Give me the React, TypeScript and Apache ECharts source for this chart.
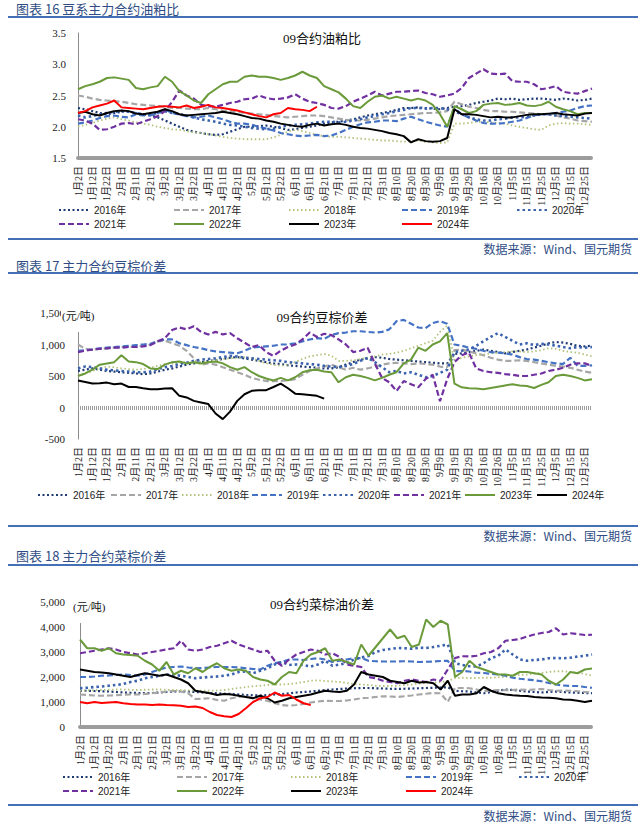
import React, { useEffect, useRef } from "react";
import * as echarts from "echarts";

const CATEGORIES = ["1月2日","1月7日","1月12日","1月17日","1月22日","1月27日","2月1日","2月6日","2月11日","2月16日","2月21日","2月26日","3月2日","3月7日","3月12日","3月17日","3月22日","3月27日","4月1日","4月6日","4月11日","4月16日","4月21日","4月26日","5月2日","5月7日","5月12日","5月17日","5月22日","5月27日","6月1日","6月6日","6月11日","6月16日","6月21日","6月26日","7月1日","7月6日","7月11日","7月16日","7月21日","7月26日","7月31日","8月5日","8月10日","8月15日","8月20日","8月25日","8月30日","9月4日","9月9日","9月14日","9月19日","9月24日","9月29日","10月11日","10月16日","10月21日","10月26日","10月31日","11月5日","11月10日","11月15日","11月20日","11月25日","11月30日","12月5日","12月10日","12月15日","12月20日","12月25日","12月30日"];

// ---------- Chart 16: 09合约油粕比 ----------
const C1_2016 = [2.3,2.28,2.25,2.22,2.2,2.22,2.24,2.25,2.22,2.2, 2.18,2.15,2.1,2.05,2.0,1.95,1.92,1.9,1.88,1.87, 1.88,1.92,1.96,2.0,2.0,2.01,2.02,2.0,1.98,1.95, 1.96,1.98,2.0,2.02,2.05,2.07,2.08,2.1,2.12,2.15, 2.18,2.2,2.22,2.24,2.27,2.3,2.3,2.31,2.3,2.29, 2.28,2.3,2.32,2.33,2.35,2.38,2.4,2.42,2.45,2.44, 2.45,2.43,2.44,2.45,2.45,2.44,2.43,2.45,2.44,2.42, 2.43,2.45];
const C1_2017 = [2.5,2.48,2.45,2.43,2.42,2.41,2.4,2.38,2.36,2.35, 2.34,2.33,2.32,2.3,2.3,2.29,2.28,2.28,2.3,2.28, 2.26,2.25,2.24,2.22,2.21,2.2,2.19,2.17,2.16,2.15, 2.16,2.17,2.18,2.18,2.17,2.15,2.13,2.11,2.1,2.1, 2.11,2.13,2.15,2.17,2.18,2.19,2.2,2.21,2.22,2.22, 2.23,2.25,2.4,2.36,2.32,2.3,2.27,2.25,2.25,2.24, 2.24,2.23,2.22,2.21,2.2,2.2,2.18,2.15,2.13,2.1, 2.09,2.08];
const C1_2018 = [2.0,2.03,2.06,2.1,2.13,2.15,2.12,2.1,2.07,2.05, 2.03,2.0,1.98,1.96,1.95,1.93,1.91,1.9,1.88,1.86, 1.84,1.82,1.81,1.8,1.8,1.8,1.8,1.83,1.87,1.92, 1.95,1.93,1.9,1.87,1.85,1.84,1.84,1.83,1.82,1.81, 1.8,1.79,1.78,1.78,1.77,1.76,1.77,1.78,1.76,1.75, 1.74,1.75,2.05,2.05,2.06,2.08,2.08,2.07,2.06,2.05, 2.02,2.0,1.98,1.96,1.95,2.02,2.05,2.06,2.05,2.05, 2.04,2.03];
const C1_2019 = [2.05,2.07,2.1,2.14,2.17,2.18,2.16,2.15,2.2,2.18, 2.18,2.22,2.28,2.22,2.2,2.17,2.15,2.16,2.18,2.15, 2.12,2.08,2.05,2.05,2.03,2.0,1.97,1.94,1.9,1.88, 1.86,1.85,1.86,1.87,1.85,1.86,1.9,1.95,2.0,2.04, 2.07,2.08,2.1,2.1,2.09,2.13,2.16,2.12,2.08,2.05, 2.02,2.0,2.3,2.2,2.15,2.1,2.06,2.05,2.05,2.06, 2.08,2.1,2.14,2.18,2.2,2.2,2.22,2.24,2.26,2.3, 2.33,2.34];
const C1_2020 = [2.18,2.15,2.17,2.2,2.22,2.24,2.25,2.24,2.22,2.2, 2.2,2.22,2.25,2.22,2.2,2.18,2.15,2.12,2.1,2.08, 2.05,2.03,2.02,2.0,1.98,1.97,1.96,1.97,2.0,2.02, 2.03,2.04,2.05,2.07,2.08,2.08,2.07,2.08,2.1,2.12, 2.15,2.17,2.2,2.22,2.25,2.27,2.3,2.3,2.29,2.3, 2.3,2.28,2.25,2.2,2.15,2.12,2.1,2.1,2.12,2.13, 2.15,2.15,2.16,2.18,2.2,2.2,2.18,2.17,2.16,2.15, 2.14,2.13];
const C1_2021 = [2.12,2.1,2.05,1.95,1.96,2.0,2.05,2.06,2.04,2.08, 2.12,2.17,2.25,2.4,2.58,2.5,2.45,2.35,2.33,2.32, 2.35,2.38,2.4,2.44,2.45,2.5,2.46,2.44,2.45,2.47, 2.52,2.45,2.4,2.38,2.35,2.3,2.29,2.33,2.4,2.45, 2.5,2.56,2.5,2.53,2.56,2.56,2.57,2.58,2.54,2.52, 2.48,2.5,2.53,2.62,2.78,2.85,2.92,2.85,2.84,2.85, 2.73,2.72,2.72,2.68,2.6,2.62,2.65,2.56,2.54,2.53, 2.57,2.61];
const C1_2022 = [2.6,2.65,2.68,2.72,2.78,2.79,2.77,2.75,2.62,2.6, 2.63,2.65,2.8,2.72,2.57,2.5,2.42,2.38,2.52,2.6, 2.68,2.72,2.72,2.8,2.82,2.8,2.8,2.78,2.75,2.78, 2.82,2.88,2.82,2.78,2.65,2.6,2.55,2.45,2.33,2.3, 2.4,2.48,2.5,2.45,2.48,2.45,2.42,2.45,2.42,2.35, 2.2,2.0,2.33,2.28,2.22,2.25,2.35,2.37,2.38,2.35, 2.36,2.38,2.34,2.33,2.35,2.4,2.32,2.28,2.25,2.2, 2.22,2.22];
const C1_2023 = [2.22,2.24,2.2,2.18,2.22,2.25,2.26,2.25,2.21,2.2, 2.22,2.24,2.28,2.25,2.2,2.18,2.19,2.2,2.21,2.22, 2.24,2.22,2.2,2.17,2.14,2.13,2.1,2.08,2.05,2.03, 2.01,2.0,2.03,2.05,2.02,2.04,2.05,2.03,2.0,1.98, 1.97,1.95,1.93,1.9,1.88,1.85,1.75,1.8,1.77,1.76, 1.77,1.82,2.28,2.2,2.2,2.19,2.17,2.15,2.16,2.15, 2.15,2.17,2.19,2.2,2.2,2.21,2.22,2.2,2.19,2.18, 2.21,2.22];
const C1_2024 = [2.22,2.25,2.31,2.34,2.37,2.42,2.31,2.3,2.29,2.28, 2.3,2.32,2.33,2.32,2.31,2.34,2.3,2.32,2.35,2.31, 2.3,2.28,2.26,2.23,2.2,2.17,2.15,2.2,2.22,2.3, 2.28,2.27,2.25,2.32];

// ---------- Chart 17: 09合约豆棕价差 ----------
const C2_2016 = [580,600,620,600,580,570,560,550,540,530, 540,570,600,620,650,680,700,720,740,750, 770,790,800,780,760,740,720,700,690,670, 660,650,640,630,620,620,640,680,720,760, 780,800,790,770,760,750,740,730,720,710, 700,700,850,860,880,900,920,900,880,860, 880,900,920,950,980,1020,1040,1030,1010,980, 970,980];
const C2_2017 = [1000,930,920,930,940,950,960,960,970,980, 1000,1050,1060,1020,980,900,780,680,700,680, 640,600,560,520,470,440,420,420,420,430, 450,520,580,620,650,680,640,600,630,600, 620,650,680,700,710,700,690,700,690,680, 650,640,910,920,890,860,830,790,760,740, 740,750,740,720,700,680,660,650,630,600, 570,550];
const C2_2018 = [500,540,580,620,650,640,620,610,600,610, 630,660,690,700,710,720,720,720,730,750, 770,780,790,800,780,740,700,680,660,680, 720,770,810,830,850,820,740,740,750,770, 790,810,840,850,870,900,940,980,1020,1060, 1200,1300,740,790,810,830,840,860,870,880, 890,890,880,890,910,940,930,900,880,870, 840,810];
const C2_2019 = [900,910,920,940,950,960,970,980,990,1000, 1010,1050,1080,1080,1020,990,960,940,910,890, 880,870,860,900,950,960,970,980,1000,1000, 1020,1050,1080,1100,1090,1150,1180,1190,1210,1210, 1200,1190,1200,1240,1370,1390,1330,1270,1260,1340, 1370,1330,1000,980,950,930,900,880,870,860, 840,800,770,760,740,720,700,690,790,660, 660,670];
const C2_2020 = [620,650,640,620,600,590,580,570,560,560, 570,610,640,660,690,710,740,760,770,780, 800,820,810,790,780,770,760,750,740,720, 710,700,690,680,660,650,640,660,690,740, 790,720,640,560,580,540,560,520,480,500, 550,600,880,900,920,980,1050,1120,1180,1120, 1060,1000,1020,990,1010,1000,980,960,940,960, 950,960];
const C2_2021 = [880,900,920,930,940,950,950,960,960,970, 990,1050,1100,1230,1270,1240,1290,1200,1160,1200, 1160,1180,1100,1030,960,990,880,820,900,960, 1000,1080,1190,1120,1170,1150,1080,1000,880,900, 950,700,470,400,260,420,370,320,450,520, 100,450,720,830,870,620,580,560,550,530, 520,500,500,520,540,580,600,630,680,700, 700,660];
const C2_2023 = [500,540,600,680,700,720,830,730,720,690, 620,610,680,720,730,700,720,700,720,730, 700,640,600,640,560,500,460,430,470,430, 480,560,590,600,570,560,400,480,520,500, 470,430,470,520,560,700,760,950,900,1000, 1050,1180,380,320,305,300,290,310,330,350, 370,350,340,310,360,400,500,520,500,470, 430,450];
const C2_2024 = [430,405,380,385,395,370,380,325,325,305, 290,290,300,305,185,160,105,80,55,-95, -185,-65,105,210,265,275,275,325,380,305, 220,210,200,185,140];

// ---------- Chart 18: 09合约菜棕油价差 ----------
const C3_2016 = [1450,1450,1440,1430,1420,1400,1380,1370,1360,1350, 1360,1380,1400,1420,1430,1420,1400,1380,1360,1350, 1330,1320,1300,1280,1270,1260,1280,1300,1320,1350, 1380,1400,1420,1450,1480,1500,1520,1540,1550,1560, 1560,1550,1540,1530,1520,1530,1540,1550,1560,1570, 1580,1590,1450,1430,1420,1380,1350,1400,1450,1500, 1480,1450,1420,1400,1380,1400,1420,1400,1380,1370, 1360,1350];
const C3_2017 = [1300,1280,1260,1250,1260,1270,1290,1300,1300,1320, 1350,1380,1420,1440,1420,1350,1120,1130,1150,1080, 1050,1150,1200,1250,1150,1100,1050,950,880,850, 880,920,980,1020,1050,1040,1040,1060,1100,1150, 1170,1200,1230,1220,1200,1230,1260,1300,1330,1360, 1350,1000,1560,1560,1550,1500,1440,1460,1480,1470, 1480,1500,1480,1500,1520,1480,1450,1460,1450,1430, 1400,1370];
const C3_2018 = [1450,1460,1470,1480,1490,1500,1500,1490,1480,1490, 1500,1500,1490,1480,1470,1460,1450,1450,1450,1460, 1480,1520,1560,1600,1630,1650,1680,1700,1700,1720, 1750,1800,1850,1870,1840,1820,1800,1760,1720,1700, 1680,1650,1640,1640,1650,1680,1700,1740,1760,1780, 1800,1830,1960,1970,1960,1960,1970,1970,1990,2000, 2050,2080,2100,2130,2160,2200,2230,2230,2200,2180, 2120,2050];
const C3_2019 = [2000,2000,2020,2050,2060,2080,2100,2080,2050,2100, 2200,2300,2380,2400,2420,2380,2350,2360,2380,2400, 2400,2400,2380,2350,2320,2300,2450,2550,2600,2700, 2700,2680,2720,2750,2700,2600,2650,2700,2750,2760, 2650,2630,2620,2620,2620,2630,2620,2600,2610,2620, 2640,2650,2230,2240,2220,2170,2160,2130,2100,2050, 1970,1930,1900,1870,1830,1760,1700,1660,1640,1640, 1600,1570];
const C3_2020 = [1550,1570,1600,1620,1650,1680,1720,1800,1850,1950, 2000,2050,2100,2080,2050,2000,1950,1980,2000,2020, 2050,2100,2200,2220,2150,2250,2350,2500,2600,2480, 2500,2480,2420,2500,2650,2450,2500,2560,2700,2780, 2840,3000,3080,3120,3160,3150,3130,3170,3160,3200, 3250,3300,2560,2480,2430,2420,2560,2750,2850,3100, 2900,2700,2650,2680,2700,2750,2760,2750,2770,2820, 2850,2900];
const C3_2021 = [2950,3000,3050,3100,3150,3100,3000,2950,2900,2950, 3000,3050,3100,3150,3450,3100,3050,3100,3200,3250, 3350,3450,3300,3200,3100,3000,3050,2650,2450,2700, 2900,3000,3100,3050,2900,2950,2800,2500,2450,2400, 2000,1950,1850,1800,1750,1850,1900,1850,1800,1900, 1850,2300,2760,2830,2820,2850,2950,3000,3150,3450, 3480,3520,3620,3700,3760,3800,3950,3700,3750,3720, 3680,3690];
const C3_2022 = [3500,3150,3150,3050,3150,2950,2900,2880,2850,2650, 2500,2250,2600,2100,2250,2150,2350,2200,2400,2550, 2350,2250,2300,2250,2000,1900,1850,1700,2000,2200, 2150,2650,2900,3000,3150,2650,2700,2600,2500,3300, 2850,3200,3550,3900,3550,3650,3200,3300,4300,4000, 4250,4100,2000,2200,2650,2400,2300,2200,2100,2100, 2050,2200,2200,2150,2100,1850,1700,1900,2200,2150, 2300,2340];
const C3_2023 = [2300,2250,2200,2180,2150,2100,2050,2000,2080,2150, 2100,2050,2100,2000,1900,1750,1450,1400,1350,1280, 1320,1300,1250,1200,1150,1250,1150,980,1050,1150, 1200,1250,1300,1380,1450,1420,1400,1450,1700,2200, 2100,2050,2000,1850,1800,1750,1850,1780,1800,1750, 1500,1850,1250,1300,1300,1350,1600,1450,1350,1300, 1270,1250,1240,1200,1180,1170,1150,1100,1090,1050, 1000,1050];
const C3_2024 = [1000,950,1000,960,980,1000,950,920,900,900, 880,900,880,870,850,800,820,760,600,480, 430,400,520,750,1000,1150,1200,1380,1250,1280, 1100,950,880];

const Y1_TICKS = [1.5, 3.5, 0.5];
const Y2_TICKS = [-500, 1500, 500];
const Y3_TICKS = [0, 5000, 1000];

const SERIF = "'Liberation Serif', 'Times New Roman', 'Noto Sans CJK SC', serif";
const SANS = "'Liberation Sans', Arial, 'Noto Sans CJK SC', sans-serif";
const CJK = "'Noto Sans CJK SC', 'Liberation Sans', sans-serif";
const HEAD_COLOR = "#2f4d84";
const RULE_COLOR = "#4470b8";

type Sty = { color: string; width: number; type: any };
const ST: Record<string, Sty> = {
  s2016: { color: "#1f3b73", width: 2.2, type: [2, 2.5] },
  s2017: { color: "#a6a6a6", width: 2.2, type: [6, 3] },
  s2018: { color: "#b2c27a", width: 1.8, type: [1.5, 2.5] },
  s2019: { color: "#4472c4", width: 2.2, type: [6, 3] },
  s2020: { color: "#3a62ad", width: 2.6, type: [2.5, 3] },
  s2021: { color: "#7030a0", width: 2.2, type: [6, 3] },
  green: { color: "#6a9a3a", width: 2, type: "solid" },
  black: { color: "#000000", width: 2, type: "solid" },
  red: { color: "#ff0000", width: 2, type: "solid" },
};

const comma = (v: number) => {
  const s = Math.abs(v).toString().replace(/\B(?=(\d{3})+(?!\d))/g, ",");
  return (v < 0 ? "-" : "") + s;
};

interface Panel {
  header: string;
  headerY: number;
  lineY: number;
  footLineY: number;
  sourceY: number;
  title: string;
  titleY: number;
  unit?: { x: number; y: number };
  gridLeft: number;
  gridTop: number;
  gridHeight: number;
  ticks: number[];
  fmt: (v: number) => string;
  labelMargin: number;
  zeroLine: boolean;
  series: { name: string; data: (number | null)[]; sty: Sty }[];
  legend: [string, number, number][];
}

function buildOption(p: Panel) {
  const series: any[] = p.series.map((s, i) => {
    const o: any = {
      name: s.name,
      type: "line",
      data: s.data,
      symbol: "none",
      showSymbol: false,
      legendIcon: "none",
      lineStyle: { color: s.sty.color, width: s.sty.width, type: s.sty.type },
      itemStyle: { color: s.sty.color },
      emphasis: { disabled: true },
      z: 3 + i,
    };
    if (i === 0 && p.zeroLine) {
      o.markLine = {
        silent: true,
        symbol: "none",
        label: { show: false },
        lineStyle: { color: "#9c9c9c", width: 4, type: [1, 1] },
        data: [{ yAxis: 0 }],
        z: 1,
      };
    }
    return o;
  });

  const legends = p.legend.map(([name, left, top]) => ({
    show: true,
    data: [name],
    left,
    top,
    padding: 0,
    itemWidth: 30,
    itemHeight: 10,
    selectedMode: false,
    itemStyle: { opacity: 0, borderWidth: 0 },
    textStyle: { fontSize: 10, fontFamily: SANS, color: "#222" },
  }));

  const graphic: any[] = [
    {
      type: "text",
      x: 16,
      y: p.headerY,
      style: { text: p.header, font: `13px ${CJK}`, fill: HEAD_COLOR, align: "left", verticalAlign: "middle", textAlign: "left", textVerticalAlign: "middle" },
    },
    { type: "line", shape: { x1: 8, y1: p.lineY, x2: 638, y2: p.lineY }, style: { stroke: RULE_COLOR, lineWidth: 2 } },
    { type: "line", shape: { x1: 8, y1: p.footLineY, x2: 638, y2: p.footLineY }, style: { stroke: RULE_COLOR, lineWidth: 2 } },
    {
      type: "text",
      x: 632,
      y: p.sourceY,
      style: { text: "数据来源：Wind、国元期货", font: `12px ${CJK}`, fill: HEAD_COLOR, align: "right", verticalAlign: "middle", textAlign: "right", textVerticalAlign: "middle" },
    },
    {
      type: "text",
      x: 322,
      y: p.titleY,
      z: 20,
      style: { text: p.title, font: `13px ${SERIF}`, fill: "#111", align: "center", verticalAlign: "middle", textAlign: "center", textVerticalAlign: "middle" },
    },
  ];
  if (p.unit) {
    graphic.push({
      type: "rect",
      z: 20,
      shape: { x: p.unit.x - 1, y: p.unit.y - 8, width: 40, height: 24 },
      style: { fill: "#ffffff" },
    });
    graphic.push({
      type: "text",
      z: 21,
      x: p.unit.x,
      y: p.unit.y,
      style: { text: "(元/吨)", font: `11px ${SERIF}`, fill: "#111", align: "left", verticalAlign: "middle", textAlign: "left", textVerticalAlign: "middle" },
    });
  }

  return {
    animation: false,
    backgroundColor: "#ffffff",
    grid: { left: p.gridLeft, right: 51, top: p.gridTop, height: p.gridHeight, containLabel: false },
    legend: legends,
    graphic,
    xAxis: {
      type: "category",
      data: CATEGORIES,
      boundaryGap: false,
      axisLine: p.zeroLine
        ? { show: false, onZero: false }
        : { show: true, onZero: false, lineStyle: { color: "#9c9c9c", width: 4, type: [1, 1] } },
      axisTick: { show: false },
      splitLine: { show: false },
      axisLabel: { interval: 1, rotate: 90, fontSize: 10, fontFamily: SERIF, color: "#222", margin: 8 },
    },
    yAxis: {
      type: "value",
      min: p.ticks[0],
      max: p.ticks[1],
      interval: p.ticks[2],
      axisLine: { show: true, lineStyle: { color: "#8c8c8c", width: 1 } },
      axisTick: { show: false },
      splitLine: { show: false },
      axisLabel: { formatter: p.fmt, fontSize: 11, fontFamily: SERIF, color: "#222", margin: p.labelMargin },
    },
    series,
  };
}

const PANEL1: Panel = {
  header: "图表 16 豆系主力合约油粕比",
  headerY: 8,
  lineY: 17,
  footLineY: 239,
  sourceY: 248,
  title: "09合约油粕比",
  titleY: 38,
  gridLeft: 78,
  gridTop: 33,
  gridHeight: 125,
  ticks: Y1_TICKS,
  fmt: (v: number) => v.toFixed(1),
  labelMargin: 12,
  zeroLine: false,
  series: [
    { name: "2016年", data: C1_2016, sty: ST.s2016 },
    { name: "2017年", data: C1_2017, sty: ST.s2017 },
    { name: "2018年", data: C1_2018, sty: ST.s2018 },
    { name: "2019年", data: C1_2019, sty: ST.s2019 },
    { name: "2020年", data: C1_2020, sty: ST.s2020 },
    { name: "2021年", data: C1_2021, sty: ST.s2021 },
    { name: "2022年", data: C1_2022, sty: ST.green },
    { name: "2023年", data: C1_2023, sty: ST.black },
    { name: "2024年", data: C1_2024, sty: ST.red },
  ],
  legend: [
    ["2016年", 58, 205], ["2017年", 173, 205], ["2018年", 288, 205], ["2019年", 401, 205], ["2020年", 516, 205],
    ["2021年", 58, 219], ["2022年", 173, 219], ["2023年", 288, 219], ["2024年", 401, 219],
  ],
};

// panel 2 coordinates are relative to its div top (256)
const PANEL2: Panel = {
  header: "图表 17 主力合约豆棕价差",
  headerY: 9,
  lineY: 17,
  footLineY: 270,
  sourceY: 279,
  title: "09合约豆棕价差",
  titleY: 61,
  unit: { x: 62, y: 60 },
  gridLeft: 78,
  gridTop: 57,
  gridHeight: 126,
  ticks: Y2_TICKS,
  fmt: comma,
  labelMargin: 13,
  zeroLine: true,
  series: [
    { name: "2016年", data: C2_2016, sty: ST.s2016 },
    { name: "2017年", data: C2_2017, sty: ST.s2017 },
    { name: "2018年", data: C2_2018, sty: ST.s2018 },
    { name: "2019年", data: C2_2019, sty: ST.s2019 },
    { name: "2020年", data: C2_2020, sty: ST.s2020 },
    { name: "2021年", data: C2_2021, sty: ST.s2021 },
    { name: "2023年", data: C2_2023, sty: ST.green },
    { name: "2024年", data: C2_2024, sty: ST.black },
  ],
  legend: [
    ["2016年", 37, 234], ["2017年", 110, 234], ["2018年", 181, 234], ["2019年", 251, 234],
    ["2020年", 322, 234], ["2021年", 393, 234], ["2023年", 464, 234], ["2024年", 536, 234],
  ],
};

// panel 3 coordinates are relative to its div top (544)
const PANEL3: Panel = {
  header: "图表 18 主力合约菜棕价差",
  headerY: 11,
  lineY: 21,
  footLineY: 261,
  sourceY: 271,
  title: "09合约菜棕油价差",
  titleY: 60,
  unit: { x: 73, y: 63 },
  gridLeft: 80,
  gridTop: 58,
  gridHeight: 125,
  ticks: Y3_TICKS,
  fmt: comma,
  labelMargin: 15,
  zeroLine: false,
  series: [
    { name: "2016年", data: C3_2016, sty: ST.s2016 },
    { name: "2017年", data: C3_2017, sty: ST.s2017 },
    { name: "2018年", data: C3_2018, sty: ST.s2018 },
    { name: "2019年", data: C3_2019, sty: ST.s2019 },
    { name: "2020年", data: C3_2020, sty: ST.s2020 },
    { name: "2021年", data: C3_2021, sty: ST.s2021 },
    { name: "2022年", data: C3_2022, sty: ST.green },
    { name: "2023年", data: C3_2023, sty: ST.black },
    { name: "2024年", data: C3_2024, sty: ST.red },
  ],
  legend: [
    ["2016年", 62, 228], ["2017年", 176, 228], ["2018年", 290, 228], ["2019年", 405, 228], ["2020年", 518, 228],
    ["2021年", 62, 242], ["2022年", 176, 242], ["2023年", 290, 242], ["2024年", 405, 242],
  ],
};

function Chart({ panel, top, height }: { panel: Panel; top: number; height: number }) {
  const ref = useRef<HTMLDivElement>(null);
  useEffect(() => {
    if (!ref.current) return;
    const chart = echarts.init(ref.current, undefined, { renderer: "svg" });
    chart.setOption(buildOption(panel) as any);
    return () => chart.dispose();
  }, [panel]);
  return <div ref={ref} style={{ position: "absolute", left: 0, top, width: 643, height }} />;
}

export default function App() {
  return (
    <div style={{ position: "absolute", left: 0, top: 0, width: 643, height: 825, background: "#fff", overflow: "hidden" }}>
      <Chart panel={PANEL1} top={0} height={256} />
      <Chart panel={PANEL2} top={256} height={288} />
      <Chart panel={PANEL3} top={544} height={281} />
    </div>
  );
}
